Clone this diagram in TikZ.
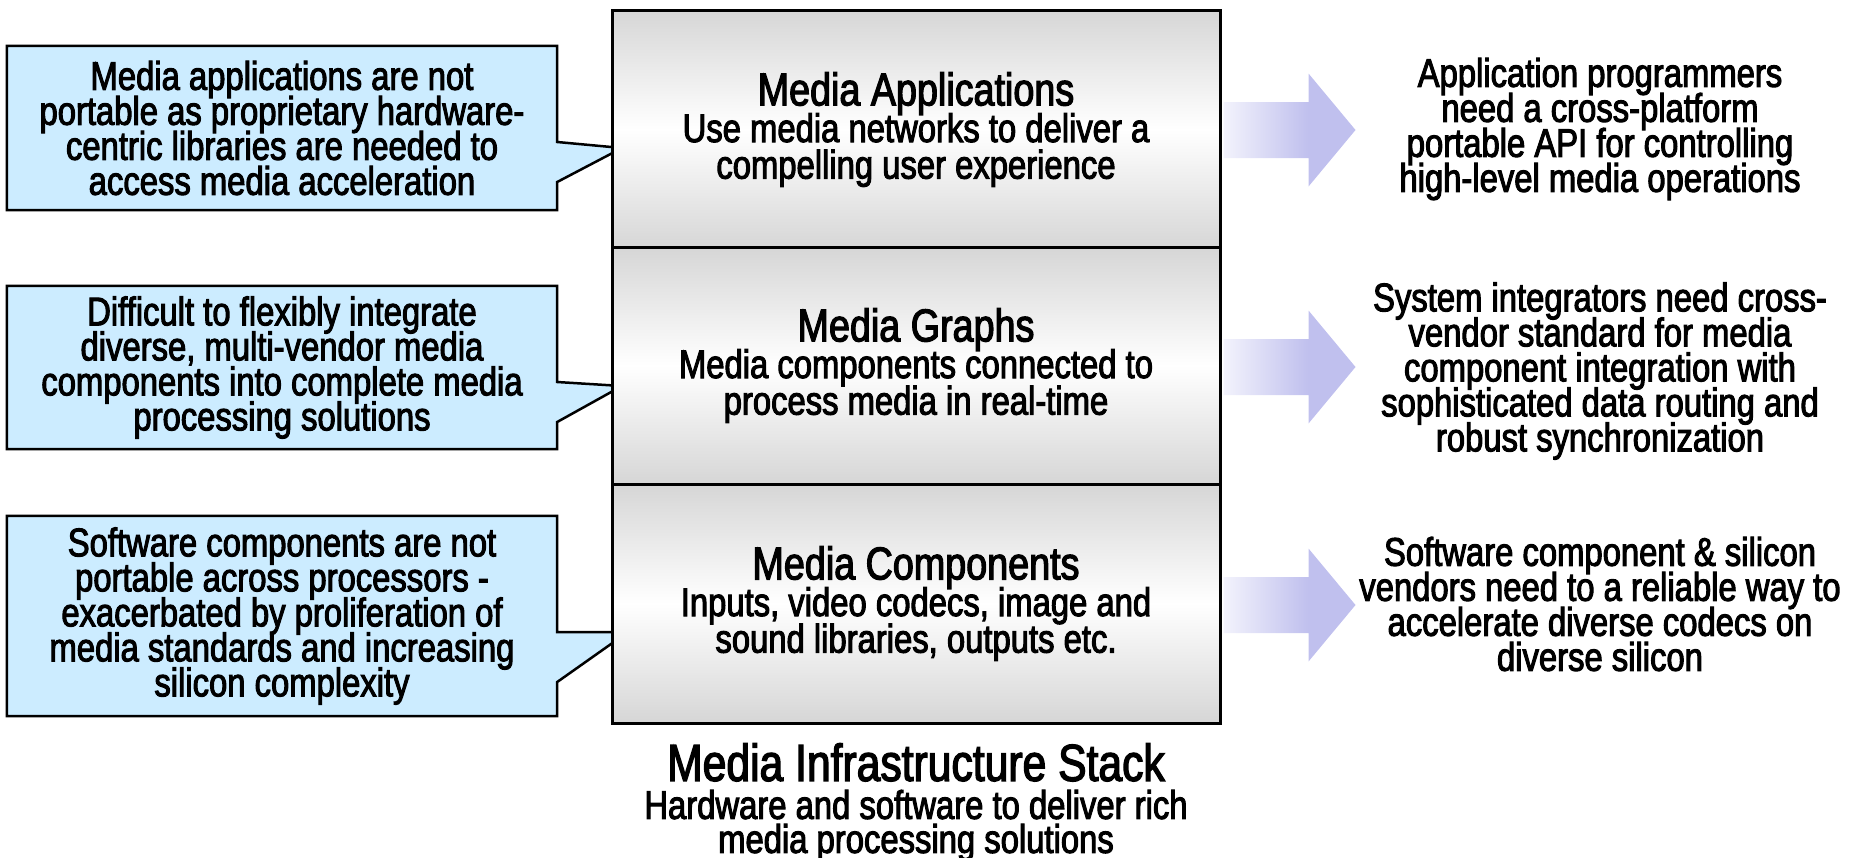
\documentclass[tikz,border=0pt]{standalone}
\usepackage{fontspec}
\setmainfont[FakeStretch=0.82,FakeBold=2.5]{Liberation Sans}
\usetikzlibrary{calc,backgrounds}

\definecolor{calloutblue}{RGB}{204,236,255}
\definecolor{stackgray}{RGB}{214,214,214}
\definecolor{arrowL}{RGB}{243,243,252}
\definecolor{arrowR}{RGB}{192,192,238}

% horizontal fade for the block arrows: light at the tail, full colour from the head on
\pgfdeclarehorizontalshading{arrowfade}{100bp}{color(0bp)=(arrowL); color(25bp)=(arrowL); color(57bp)=(arrowR); color(100bp)=(arrowR)}

% fixed line pitch, even where ascenders and descenders would touch
\newcommand{\textsize}[2]{\fontsize{#1}{#2}\selectfont\lineskiplimit=-100pt\lineskip=0pt}

\tikzset{
  bodytext/.style={align=center, inner sep=0pt, font=\textsize{40}{35}},
  calloutline/.style={draw=black, line width=2.5pt, fill=calloutblue, line join=miter},
  stackrow/.style={draw=black, line width=3pt, minimum width=608pt, inner sep=0pt,
    top color=stackgray, bottom color=stackgray, middle color=white,
    align=center, font=\textsize{40}{36.6}},
  blockarrow/.style={shading=arrowfade, draw=none},
}
\newcommand{\rowtitle}[1]{{\fontsize{46}{46}\selectfont #1}}

\begin{document}
\begin{tikzpicture}[x=1pt, y=-1pt]
\useasboundingbox (0,0) rectangle (1852,857);

% ---- the three layers of the stack ----
\node[stackrow, minimum height=239pt] (s1) at (916,129.5)
  {\rowtitle{Media Applications}\\Use media networks to deliver a\\compelling user experience};
\node[stackrow, minimum height=237pt] (s2) at (916,365.5)
  {\rowtitle{Media Graphs}\\Media components connected to\\process media in real-time};
\node[stackrow, minimum height=239pt] (s3) at (916,603.5)
  {\rowtitle{Media Components}\\Inputs, video codecs, image and\\sound libraries, outputs etc.};

% ---- caption under the stack ----
\node[bodytext, font=\textsize{40}{34}, anchor=north] (cap) at (916,743)
  {{\fontsize{52}{52}\selectfont Media Infrastructure Stack}\\[4pt]Hardware and software to deliver rich\\media processing solutions};

% ---- callouts on the left ----
\node[bodytext, minimum width=550pt, minimum height=164pt] (c1) at (282,128)
  {Media applications are not\\portable as proprietary hardware-\\centric libraries are needed to\\access media acceleration};
\node[bodytext, minimum width=550pt, minimum height=163pt] (c2) at (282,367.5)
  {Difficult to flexibly integrate\\diverse, multi-vendor media\\components into complete media\\processing solutions};
\node[bodytext, minimum width=550pt, minimum height=200pt] (c3) at (282,616)
  {Software components are not\\portable across processors -\\exacerbated by proliferation of\\media standards and increasing\\silicon complexity};

\coordinate (t1) at (622,148);
\coordinate (t2) at (622,386);
\coordinate (t3) at (628,632);

\begin{scope}[on background layer]
  \draw[calloutline] (c1.north west) -- (c1.north east) -- (c1.north east |- 0,142) -- (t1)
    -- (c1.north east |- 0,182) -- (c1.south east) -- (c1.south west) -- cycle;
  \draw[calloutline] (c2.north west) -- (c2.north east) -- (c2.north east |- 0,382) -- (t2)
    -- (c2.north east |- 0,422) -- (c2.south east) -- (c2.south west) -- cycle;
  \draw[calloutline] (c3.north west) -- (c3.north east) -- (c3.north east |- 0,632) -- (t3)
    -- (c3.north east |- 0,682) -- (c3.south east) -- (c3.south west) -- cycle;
\end{scope}

% ---- block arrows and the needs on the right ----
\coordinate (a1) at ($(s1.east)+(2,0.5)$);
\coordinate (a2) at ($(s2.east)+(2,1.5)$);
\coordinate (a3) at ($(s3.east)+(2,1.5)$);
\foreach \a in {a1,a2,a3}{
  \path[blockarrow] ($(\a)+(0,-28)$) -- ++(85,0) -- ++(0,-28.5) -- ++(47,56.5)
    -- ++(-47,56.5) -- ++(0,-28.5) -- ++(-85,0) -- cycle;
}

\node[bodytext] (r1) at (1600,129)
  {Application programmers\\need a cross-platform\\portable API for controlling\\high-level media operations};
\node[bodytext] (r2) at (1600,371)
  {System integrators need cross-\\vendor standard for media\\component integration with\\sophisticated data routing and\\robust synchronization};
\node[bodytext] (r3) at (1600,604)
  {Software component \& silicon\\vendors need to a reliable way to\\accelerate diverse codecs on\\diverse silicon};
\end{tikzpicture}
\end{document}
